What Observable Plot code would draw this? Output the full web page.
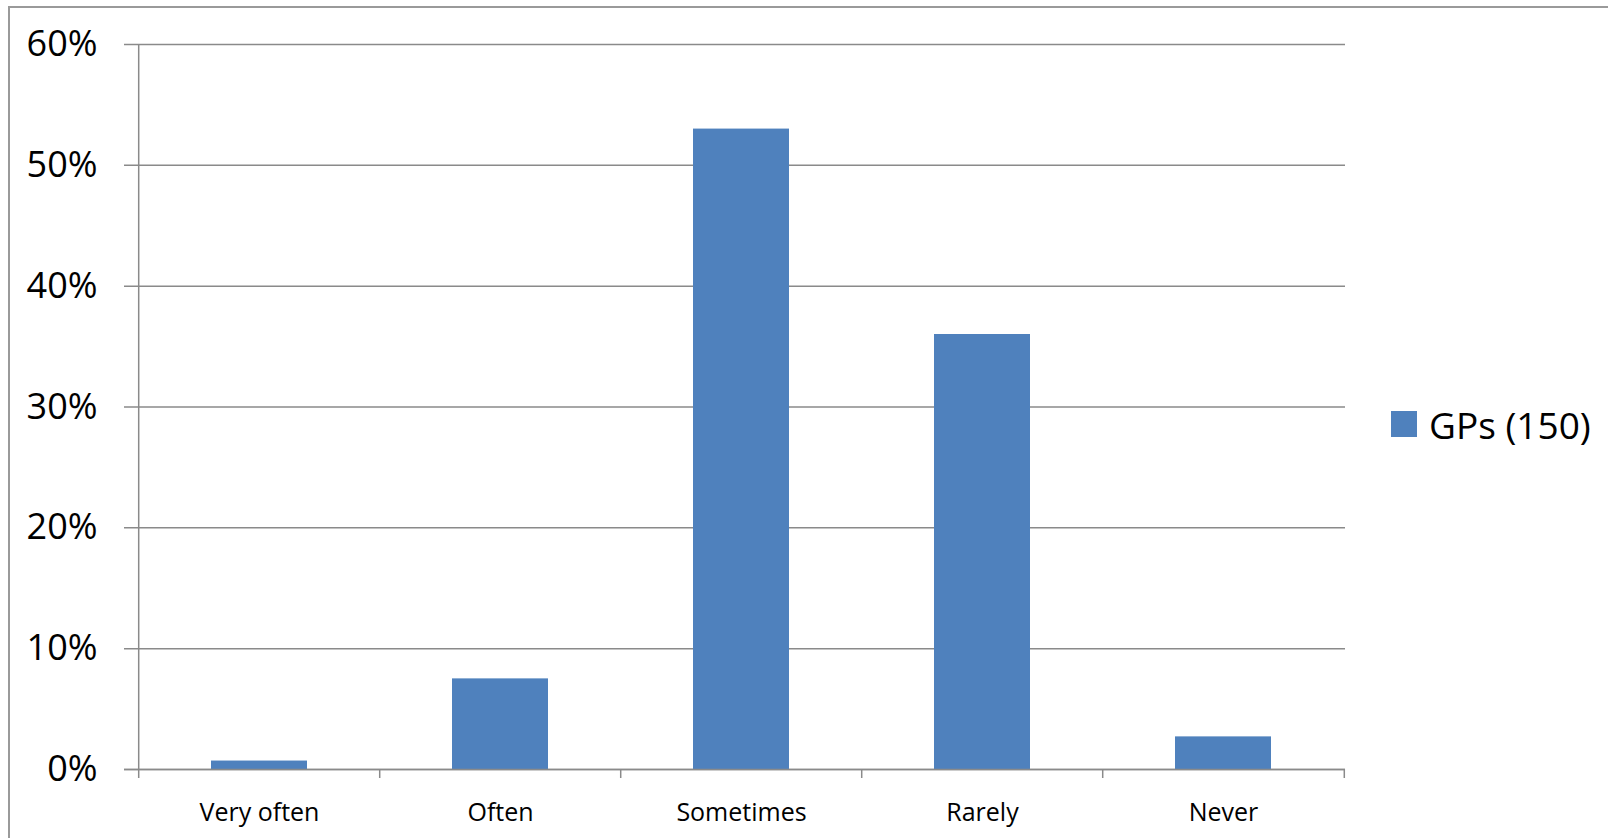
<!DOCTYPE html>
<html><head><meta charset="utf-8">
<script src="https://cdn.jsdelivr.net/npm/d3@7"></script>
<script src="https://cdn.jsdelivr.net/npm/@observablehq/plot@0.6"></script>
<style>
body{margin:0;background:#fff;}
#wrap{position:relative;width:1608px;height:838px;overflow:hidden;font-family:"Open Sans",sans-serif;background:#fff;}
#frame{position:absolute;left:8px;top:6px;right:-10px;bottom:-10px;border-left:2px solid #9a9a9a;border-top:2px solid #9a9a9a;}
#chart{position:absolute;left:0;top:0;}
#legend{position:absolute;left:1391px;top:399px;height:50px;display:flex;align-items:center;gap:12px;font-size:37px;color:#000;}
#legend .sw{width:26px;height:26px;}
</style></head><body>
<div id="wrap"><div id="frame"></div><div id="chart"></div><div id="legend"></div></div>
<script>
const categories = ["Very often", "Often", "Sometimes", "Rarely", "Never"];
const gpValues = [0.007, 0.075, 0.53, 0.36, 0.027];
const yTicks = [0, 0.1, 0.2, 0.3, 0.4, 0.5, 0.6];
const seriesName = "GPs (150)";
const barColor = "#4f81bd";
const gridColor = "#8a8a8a";

const data = categories.map((c, i) => ({category: c, value: gpValues[i]}));

const W = 1608, H = 838, mL = 137, mR = 263, mT = 44, mB = 69;
const step = (W - mL - mR) / categories.length;

const chart = Plot.plot({
  width: W, height: H,
  marginLeft: mL, marginRight: mR, marginTop: mT, marginBottom: mB,
  style: {fontFamily: "'Open Sans', sans-serif", color: "#000", background: "transparent", overflow: "visible"},
  x: {type: "band", domain: categories, paddingInner: 0.6, paddingOuter: 0.3, label: null},
  y: {domain: [0, 0.6], label: null},
  marks: [
    Plot.ruleY(yTicks, {stroke: gridColor, strokeWidth: 1.5, insetLeft: -13}),
    Plot.barY(data, {x: "category", y: "value", fill: barColor}),
    Plot.ruleY([0], {stroke: gridColor, strokeWidth: 1.5, insetLeft: -13}),
    Plot.ruleX([categories[0]], {dx: -step / 2, y1: 0.6, y2: 0, insetBottom: -9, stroke: gridColor, strokeWidth: 1.5}),
    Plot.ruleX(categories.slice(1), {dx: -step / 2, y1: 0, y2: 0, insetBottom: -9, stroke: gridColor, strokeWidth: 1.5}),
    Plot.ruleX([categories[categories.length - 1]], {dx: step / 2, y1: 0, y2: 0, insetBottom: -9, stroke: gridColor, strokeWidth: 1.5}),
    Plot.axisY({ticks: yTicks, tickSize: 0, tickPadding: 40, tickFormat: d3.format(".0%"), fontSize: 36, label: null}),
    Plot.axisX({tickSize: 0, tickPadding: 34, fontSize: 25, label: null})
  ]
});
document.getElementById("chart").appendChild(chart);

const lg = document.getElementById("legend");
const sw = document.createElement("div");
sw.className = "sw";
sw.style.background = barColor;
const tx = document.createElement("span");
tx.textContent = seriesName;
lg.appendChild(sw);
lg.appendChild(tx);
</script>
</body></html>
